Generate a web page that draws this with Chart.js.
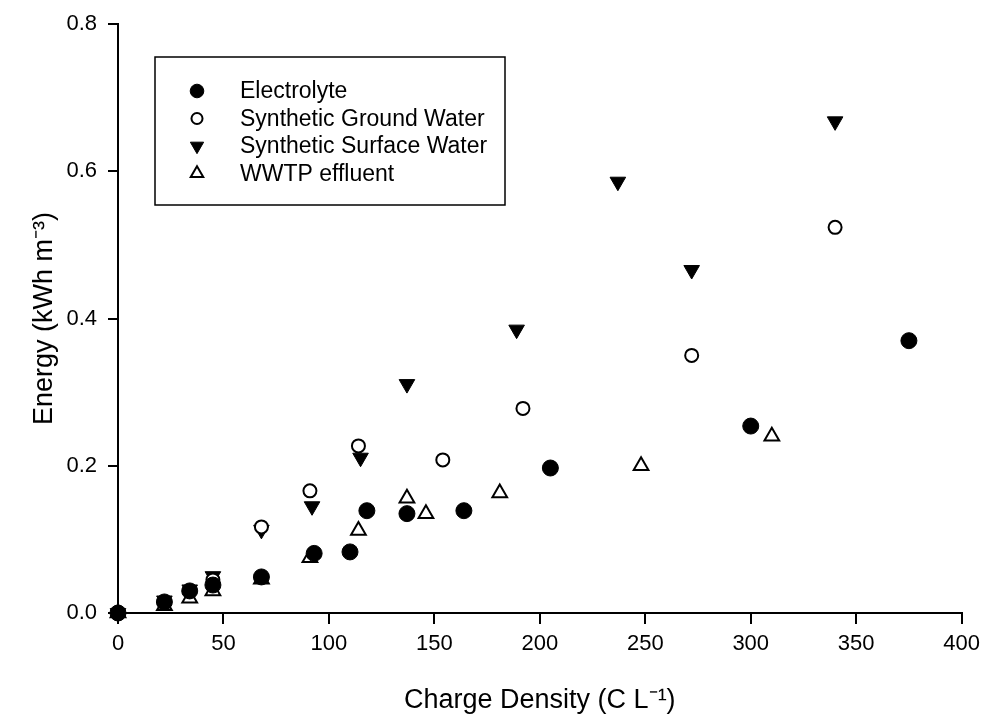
<!DOCTYPE html>
<html>
<head>
<meta charset="utf-8">
<script src="https://cdn.jsdelivr.net/npm/chart.js@4.4.0/dist/chart.umd.min.js"></script>
<style>
  html, body { margin: 0; padding: 0; background: #fff; }
  #wrap { width: 987px; height: 717px; }
</style>
</head>
<body>
<div id="wrap"><canvas id="energyChart"></canvas></div>
<script>
// values
const electrolyteX = [0, 22, 34, 45, 68, 93, 110, 118, 137, 164, 205, 300, 375];
const electrolyteY = [0, 0.015, 0.03, 0.038, 0.049, 0.081, 0.083, 0.139, 0.135, 0.139, 0.197, 0.254, 0.37];

const groundX = [0, 22, 34, 45, 68, 91, 114, 154, 192, 272, 340];
const groundY = [0, 0.014, 0.03, 0.045, 0.117, 0.166, 0.227, 0.208, 0.278, 0.35, 0.524];

const surfaceX = [0, 22, 34, 45, 68, 92, 115, 137, 189, 237, 272, 340];
const surfaceY = [0, 0.017, 0.032, 0.05, 0.113, 0.145, 0.211, 0.311, 0.385, 0.586, 0.466, 0.668];

const wwtpX = [0, 22, 34, 45, 68, 91, 114, 137, 146, 181, 248, 310];
const wwtpY = [0, 0.01, 0.02, 0.03, 0.046, 0.075, 0.112, 0.156, 0.135, 0.163, 0.2, 0.24];

const seriesNames = ['Electrolyte', 'Synthetic Ground Water', 'Synthetic Surface Water', 'WWTP effluent'];
const xTicks = [0, 50, 100, 150, 200, 250, 300, 350, 400];
const yTicks = [0, 0.2, 0.4, 0.6, 0.8];

function toPoints(xs, ys) {
    return xs.map((x, i) => ({ x: x, y: ys[i] }));
}

const FONT = 'Arial, "Liberation Sans", sans-serif';

// legend drawn inside the plot, boxed like the original
const boxLegend = {
    id: 'boxLegend',
    afterDraw(chart) {
        const ctx = chart.ctx;
        const left = 155, top = 57, w = 350, h = 148;
        ctx.save();
        ctx.strokeStyle = '#000';
        ctx.lineWidth = 1.5;
        ctx.strokeRect(left, top, w, h);
        ctx.font = '23px ' + FONT;
        ctx.textBaseline = 'middle';
        chart.data.datasets.forEach((ds, i) => {
            const y = 91 + i * 27.5;
            ctx.fillStyle = ds.backgroundColor;
            ctx.strokeStyle = ds.borderColor;
            ctx.lineWidth = ds.borderWidth;
            Chart.helpers.drawPoint(ctx, {
                pointStyle: ds.pointStyle,
                rotation: ds.rotation || 0,
                radius: ds.pointRadius * 0.85,
                borderWidth: ds.borderWidth
            }, 197, y);
            ctx.fillStyle = '#000';
            ctx.fillText(ds.label, 240, y + 1);
        });
        ctx.restore();
    }
};

const ctx = document.getElementById('energyChart').getContext('2d');
new Chart(ctx, {
    type: 'scatter',
    data: {
        datasets: [
            {
                label: seriesNames[0],
                data: toPoints(electrolyteX, electrolyteY),
                pointStyle: 'circle',
                pointRadius: 8,
                backgroundColor: '#000',
                borderColor: '#000',
                borderWidth: 1,
                clip: false
            },
            {
                label: seriesNames[1],
                data: toPoints(groundX, groundY),
                pointStyle: 'circle',
                pointRadius: 6.5,
                backgroundColor: '#fff',
                borderColor: '#000',
                borderWidth: 2,
                clip: false
            },
            {
                label: seriesNames[2],
                data: toPoints(surfaceX, surfaceY),
                pointStyle: 'triangle',
                rotation: 180,
                pointRadius: 9,
                backgroundColor: '#000',
                borderColor: '#000',
                borderWidth: 1,
                clip: false
            },
            {
                label: seriesNames[3],
                data: toPoints(wwtpX, wwtpY),
                pointStyle: 'triangle',
                pointRadius: 8.5,
                backgroundColor: '#fff',
                borderColor: '#000',
                borderWidth: 2,
                clip: false
            }
        ]
    },
    options: {
        responsive: true,
        maintainAspectRatio: false,
        animation: false,
        events: [],
        layout: { padding: { top: 22, right: 24, left: 0, bottom: 0 } },
        plugins: {
            legend: { display: false },
            tooltip: { enabled: false }
        },
        scales: {
            x: {
                type: 'linear',
                min: 0,
                max: 400,
                afterBuildTicks: (scale) => { scale.ticks = xTicks.map(v => ({ value: v })); },
                afterFit: (scale) => { scale.height = 104; },
                border: { display: true, color: '#000', width: 2 },
                grid: { display: true, drawOnChartArea: false, drawTicks: true, tickLength: 11, color: '#000', lineWidth: 2 },
                ticks: { color: '#000', font: { family: FONT, size: 22 }, padding: 7, maxRotation: 0 },
                title: {
                    display: true,
                    text: 'Charge Density (C L\u207B\u00B9)',
                    color: '#000',
                    font: { family: FONT, size: 27 },
                    padding: { top: 0, bottom: 0 }
                }
            },
            y: {
                type: 'linear',
                min: 0,
                max: 0.8,
                afterBuildTicks: (scale) => { scale.ticks = yTicks.map(v => ({ value: v })); },
                afterFit: (scale) => { scale.width = 118; },
                border: { display: true, color: '#000', width: 2 },
                grid: { display: true, drawOnChartArea: false, drawTicks: true, tickLength: 10, color: '#000', lineWidth: 2 },
                ticks: {
                    color: '#000',
                    font: { family: FONT, size: 22 },
                    padding: 11,
                    callback: (v) => v.toFixed(1)
                },
                title: {
                    display: true,
                    text: 'Energy (kWh m\u207B\u00B3)',
                    color: '#000',
                    font: { family: FONT, size: 27 },
                    padding: { top: 28, bottom: 0 }
                }
            }
        }
    },
    plugins: [boxLegend]
});
</script>
</body>
</html>
